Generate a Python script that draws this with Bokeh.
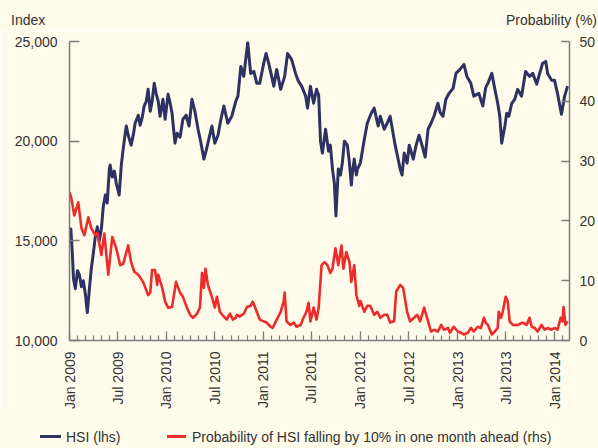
import math
import pandas as pd
from bokeh.plotting import figure
from bokeh.layouts import column
from bokeh.models import (Range1d, LinearAxis, FixedTicker, Div,
                          ColumnDataSource, DatetimeTickFormatter)
from bokeh.embed import file_html
from bokeh.resources import INLINE

hsi_dates = ["2009-01-01","2009-01-06","2009-01-12","2009-01-16","2009-01-23","2009-01-31","2009-02-07","2009-02-15","2009-02-22","2009-03-02",
             "2009-03-09","2009-03-17","2009-03-24","2009-04-01","2009-04-08","2009-04-16","2009-04-23","2009-05-01","2009-05-08","2009-05-16",
             "2009-05-23","2009-05-31","2009-06-03","2009-06-11","2009-06-19","2009-06-26","2009-07-07","2009-07-15","2009-07-22","2009-07-30",
             "2009-08-03","2009-08-10","2009-08-21","2009-08-29","2009-09-05","2009-09-17","2009-09-24","2009-10-02","2009-10-09","2009-10-17",
             "2009-10-24","2009-11-01","2009-11-08","2009-11-16","2009-11-23","2009-12-01","2009-12-08","2009-12-19","2009-12-27","2010-01-07",
             "2010-01-15","2010-01-22","2010-02-02","2010-02-10","2010-02-21","2010-03-04","2010-03-16","2010-03-27","2010-04-07","2010-04-18",
             "2010-04-30","2010-05-11","2010-05-22","2010-05-30","2010-06-06","2010-06-21","2010-07-02","2010-07-14","2010-07-25","2010-08-05",
             "2010-08-20","2010-09-04","2010-09-19","2010-09-27","2010-10-08","2010-10-19","2010-11-03","2010-11-14","2010-11-26","2010-12-07",
             "2010-12-18","2011-01-02","2011-01-11","2011-01-21","2011-02-01","2011-02-09","2011-02-20","2011-03-07","2011-03-22","2011-04-02",
             "2011-04-17","2011-05-02","2011-05-13","2011-05-25","2011-06-09","2011-06-16","2011-06-27","2011-07-09","2011-07-20","2011-07-28",
             "2011-08-04","2011-08-11","2011-08-23","2011-09-03","2011-09-10","2011-09-18","2011-09-25","2011-10-01","2011-10-10","2011-10-18",
             "2011-10-25","2011-11-02","2011-11-13","2011-11-21","2011-11-28","2011-12-02","2011-12-09","2011-12-17","2011-12-21","2012-01-01",
             "2012-01-16","2012-01-27","2012-02-11","2012-02-22","2012-03-08","2012-03-16","2012-03-31","2012-04-11","2012-04-22","2012-05-11",
             "2012-05-19","2012-05-30","2012-06-06","2012-06-14","2012-06-25","2012-07-03","2012-07-18","2012-07-29","2012-08-09","2012-08-20",
             "2012-09-01","2012-09-12","2012-09-23","2012-10-04","2012-10-19","2012-10-27","2012-11-07","2012-11-18","2012-11-30","2012-12-15",
             "2012-12-26","2013-01-10","2013-01-25","2013-02-05","2013-02-20","2013-03-03","2013-03-22","2013-04-06","2013-04-17","2013-04-25",
             "2013-05-10","2013-05-17","2013-06-01","2013-06-09","2013-06-16","2013-06-28","2013-07-05","2013-07-13","2013-07-24","2013-08-04",
             "2013-08-15","2013-08-30","2013-09-14","2013-09-29","2013-10-11","2013-10-26","2013-11-06","2013-11-17","2013-11-29","2013-12-06",
             "2013-12-21","2014-01-01","2014-01-12","2014-01-27","2014-02-08","2014-02-19"]
hsi_values = [14900,15600,14300,13100,12600,13500,13300,12700,13000,12300,
              11400,12600,13600,14400,15200,15700,15000,15600,16700,17300,
              16900,18600,18800,18200,18500,17900,17300,18800,19600,20400,
              20760,20300,19800,20300,20900,21300,20800,21200,21760,22000,
              22600,21500,22000,22900,22400,22000,21250,22100,21100,22350,
              21900,21400,19900,20400,20200,21100,21300,20760,22100,21500,
              20600,19900,19100,19500,19900,20760,19900,20300,21100,21760,
              20900,21250,22000,22260,23750,23250,24950,23400,23500,22900,
              22900,23900,24400,23900,23250,22760,23600,22600,23250,24400,
              24100,23400,23000,22760,22260,21660,22760,21900,22600,22300,
              20000,19400,20600,19500,19800,18600,17900,16250,18600,18300,
              18900,20000,19800,18900,17800,18400,19100,18300,18600,18900,
              20100,20900,21400,21660,20760,21250,20600,20900,21250,19800,
              19300,18600,18300,19400,18900,19800,19100,19800,20300,19800,
              19200,20600,20900,21250,21900,21450,21250,22100,22400,22650,
              23400,23600,23850,23250,22900,22260,22400,21760,22700,22900,
              23400,22900,21900,21250,19900,20760,21400,21250,21900,22100,
              22600,22260,23500,23250,23400,22860,23400,23900,24000,23400,
              23050,23050,22400,21350,22260,22760]

prob_dates = ["2009-01-01","2009-01-08","2009-01-19","2009-02-03","2009-02-15","2009-02-26","2009-03-13","2009-03-24","2009-04-08","2009-04-16",
              "2009-05-01","2009-05-12","2009-05-27","2009-06-11","2009-06-26","2009-07-11","2009-07-22","2009-08-10","2009-08-21","2009-09-02",
              "2009-09-17","2009-10-05","2009-10-24","2009-11-01","2009-11-08","2009-11-19","2009-11-27","2009-12-01","2009-12-16","2009-12-27",
              "2010-01-07","2010-01-22","2010-02-06","2010-02-10","2010-02-21","2010-03-04","2010-03-19","2010-03-31","2010-04-11","2010-04-26",
              "2010-05-07","2010-05-15","2010-05-22","2010-05-28","2010-06-06","2010-06-21","2010-07-02","2010-07-10","2010-07-21","2010-08-01",
              "2010-08-16","2010-08-28","2010-09-08","2010-09-19","2010-09-23","2010-10-04","2010-10-19","2010-10-31","2010-11-14","2010-11-22",
              "2010-12-07","2010-12-18","2011-01-02","2011-01-13","2011-01-28","2011-02-05","2011-02-20","2011-03-07","2011-03-18","2011-03-22",
              "2011-03-29","2011-04-13","2011-04-25","2011-05-06","2011-05-21","2011-06-01","2011-06-12","2011-06-20","2011-06-27","2011-07-09",
              "2011-07-20","2011-07-28","2011-08-08","2011-08-19","2011-08-30","2011-09-10","2011-09-18","2011-09-29","2011-10-10","2011-10-22",
              "2011-10-29","2011-11-09","2011-11-21","2011-11-28","2011-12-09","2011-12-17","2011-12-28","2012-01-01","2012-01-16","2012-01-27",
              "2012-02-07","2012-02-22","2012-03-05","2012-03-16","2012-03-31","2012-04-11","2012-04-22","2012-05-07","2012-05-15","2012-05-30",
              "2012-06-10","2012-06-25","2012-07-06","2012-07-21","2012-08-02","2012-08-13","2012-08-28","2012-09-12","2012-09-23","2012-10-04",
              "2012-10-19","2012-10-31","2012-11-11","2012-11-26","2012-12-03","2012-12-18","2013-01-02","2013-01-14","2013-01-25","2013-02-09",
              "2013-02-20","2013-03-03","2013-03-18","2013-03-30","2013-04-10","2013-04-17","2013-04-25","2013-05-10","2013-05-21","2013-06-01",
              "2013-06-05","2013-06-13","2013-06-20","2013-07-01","2013-07-09","2013-07-16","2013-07-28","2013-08-15","2013-09-03","2013-09-18",
              "2013-09-29","2013-10-07","2013-10-18","2013-10-29","2013-11-13","2013-11-25","2013-12-06","2013-12-21","2014-01-01","2014-01-12",
              "2014-01-24","2014-01-31","2014-02-04","2014-02-11","2014-02-19"]
prob_values = [24.8,23.8,20.9,23.1,18.8,17.6,20.6,18.8,17.6,18.0,
               14.3,17.9,11.0,17.3,15.4,12.6,12.8,15.9,13.1,11.5,
               11.0,9.8,7.6,8.0,11.8,11.8,9.3,11.0,8.8,6.5,
               5.5,5.6,9.8,9.3,8.0,7.3,5.5,4.3,3.8,4.5,
               5.5,11.3,8.8,12.0,9.3,7.3,5.5,7.3,4.8,4.2,
               3.5,4.5,3.5,3.8,4.3,4.0,4.5,5.6,5.8,6.5,
               4.8,3.5,3.2,3.0,2.3,2.1,3.5,4.8,6.5,8.0,
               3.2,2.6,3.0,2.3,2.6,3.8,4.8,6.3,3.2,5.5,
               3.5,5.5,12.6,13.1,12.6,11.3,12.0,15.4,12.6,15.9,
               12.0,14.8,13.1,9.8,12.6,7.6,5.8,6.6,4.8,5.8,
               5.8,4.3,4.8,3.8,4.3,4.3,3.0,3.2,8.2,9.3,
               8.8,4.8,3.2,3.8,4.3,3.2,5.5,3.2,1.5,1.8,
               1.5,2.6,1.8,2.1,1.3,2.3,1.5,1.3,1.0,1.3,
               2.1,1.5,2.3,2.1,3.8,3.0,2.6,1.0,1.5,2.1,
               4.8,3.8,4.8,7.3,6.5,3.2,2.6,2.6,3.0,2.6,
               3.8,2.3,2.1,1.5,2.6,1.8,2.1,1.8,2.1,1.8,
               3.8,3.2,5.6,2.6,3.2]

tick_labels = ["Jan 2009", "Jul 2009", "Jan 2010", "Jul 2010", "Jan 2011", "Jul 2011",
               "Jan 2012", "Jul 2012", "Jan 2013", "Jul 2013", "Jan 2014"]
left_ticks = [10000, 15000, 20000, 25000]
right_ticks = [0, 10, 20, 30, 40, 50]
left_title = "Index"
right_title = "Probability (%)"
hsi_name = "HSI (lhs)"
prob_name = "Probability of HSI falling by 10% in one month ahead (rhs)"

NAVY = "#2d3263"
RED = "#ee2b2b"
BG = "#fefbea"
AXIS = "#7d7d7d"
TXT = "#333333"
FONT = "Liberation Sans"
W = 598
HEAD_H = 31
FIG_H = 381
LEG_H = 448 - HEAD_H - FIG_H

def ms(s):
    return pd.Timestamp(s).value / 1e6

major_ms = [ms(pd.to_datetime(t, format="%b %Y")) for t in tick_labels]
minor_ms = [ms(d) for d in pd.date_range("2009-01-01", "2014-02-01", freq="MS")]

p = figure(width=W, height=FIG_H, x_axis_type="datetime",
           x_range=Range1d(pd.Timestamp("2009-01-01"), pd.Timestamp("2014-02-26 08:00")),
           y_range=Range1d(10000, 25000),
           output_backend="svg", toolbar_location=None,
           min_border_left=69, min_border_right=27, min_border_top=10, min_border_bottom=70)
p.extra_y_ranges = {"prob": Range1d(0, 50)}
p.background_fill_color = BG
p.border_fill_color = BG
p.outline_line_color = None
p.xgrid.visible = False
p.ygrid.visible = False

hsi_src = ColumnDataSource(dict(x=pd.to_datetime(hsi_dates), y=hsi_values))
prob_src = ColumnDataSource(dict(x=pd.to_datetime(prob_dates), y=prob_values))
p.line("x", "y", source=hsi_src, line_color=NAVY, line_width=3, line_join="round")
p.line("x", "y", source=prob_src, line_color=RED, line_width=2.6, line_join="round",
       y_range_name="prob")

xa = p.xaxis[0]
xa.ticker = FixedTicker(ticks=major_ms, minor_ticks=minor_ms)
xa.formatter = DatetimeTickFormatter(days="%b %Y", months="%b %Y", years="%b %Y")
xa.major_label_orientation = math.pi / 2
xa.major_label_standoff = 11
xa.major_tick_in = 9
xa.major_tick_out = 0
xa.minor_tick_in = 5
xa.minor_tick_out = 0

ya = p.yaxis[0]
ya.ticker = FixedTicker(ticks=left_ticks)
ya.major_label_overrides = {t: f"{t:,}" for t in left_ticks}
ya.major_tick_in = 10
ya.major_tick_out = 0
ya.major_label_standoff = 12

ra = LinearAxis(y_range_name="prob", ticker=FixedTicker(ticks=right_ticks))
ra.major_tick_in = 8
ra.major_tick_out = 0
ra.major_label_standoff = 10
p.add_layout(ra, "right")

for ax in [xa, ya, ra]:
    ax.axis_line_color = AXIS
    ax.axis_line_width = 1.5
    ax.major_tick_line_color = AXIS
    ax.major_tick_line_width = 1.3
    ax.minor_tick_line_color = AXIS if ax is xa else None
    ax.minor_tick_line_width = 1.2
    ax.major_label_text_font = FONT
    ax.major_label_text_font_size = "14px"
    ax.major_label_text_color = TXT

base = f"position:relative;width:{W}px;height:{{h}}px;background:{BG};font-family:'{FONT}';font-size:14px;color:{TXT};overflow:hidden;"
span = "position:absolute;white-space:nowrap;line-height:16px;"

head_html = (f"<div style=\"{base.format(h=HEAD_H)}\">"
             f"<span style=\"{span}left:11px;top:12px;\">{left_title}</span>"
             f"<span style=\"{span}right:1px;top:12px;\">{right_title}</span></div>")
leg_html = (f"<div style=\"{base.format(h=LEG_H)}\">"
            f"<span style=\"position:absolute;left:40px;top:23px;width:21px;height:3px;background:{NAVY};\"></span>"
            f"<span style=\"{span}left:66px;top:17px;\">{hsi_name}</span>"
            f"<span style=\"position:absolute;left:167px;top:23px;width:19px;height:3px;background:{RED};\"></span>"
            f"<span style=\"{span}left:192px;top:17px;\">{prob_name}</span></div>")

head = Div(text=head_html, width=W, height=HEAD_H, margin=0)
leg = Div(text=leg_html, width=W, height=LEG_H, margin=0)

layout = column(head, p, leg, spacing=0, margin=0)
open("out.html", "w").write(file_html(layout, INLINE))
